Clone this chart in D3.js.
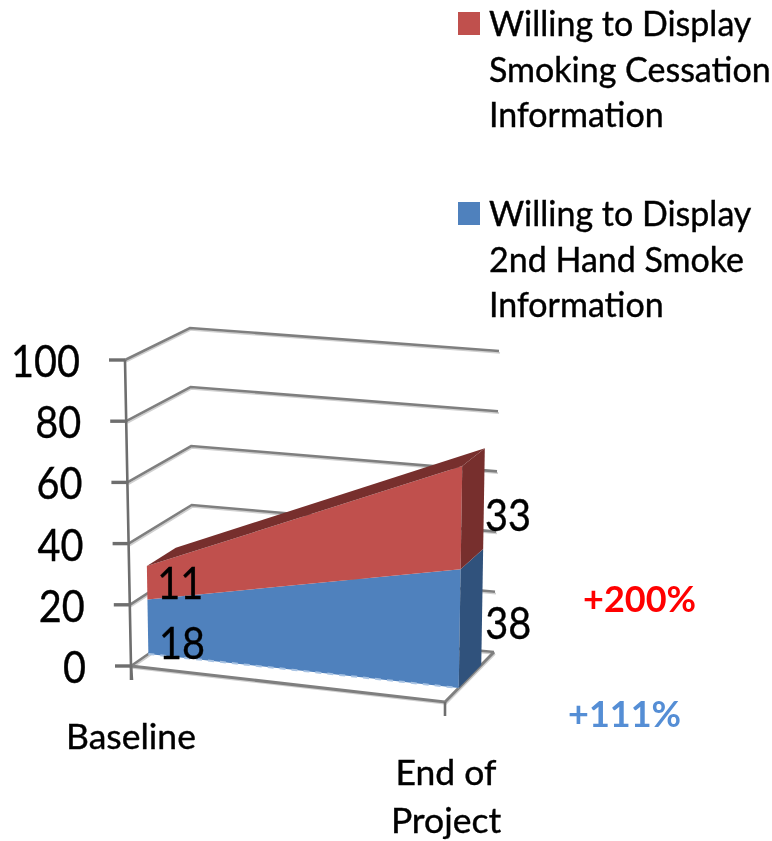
<!DOCTYPE html>
<html>
<head>
<meta charset="utf-8">
<title>Willingness to display information</title>
<script src="https://cdn.jsdelivr.net/npm/d3@7"></script>
<style>
	html, body { margin: 0; padding: 0; background: #fff; }
	svg { display: block; filter: blur(0.6px); }
	text { font-family: Lato, "Open Sans", sans-serif; fill: #000; stroke: #000; stroke-width: 0.4px; }
</style>
</head>
<body>
<svg id="chart" width="772" height="841"></svg>
<script>
const categories = ["Baseline", "End of Project"];
const secondHand = [18, 38];
const cessation = [11, 33];
const yTicks = [0, 20, 40, 60, 80, 100];
const legendLabels = [
	["Willing to Display", "Smoking Cessation", "Information"],
	["Willing to Display", "2nd Hand Smoke", "Information"]
];
const changeLabels = ["+200%", "+111%"];

const RED = "#c0504d", RED_DARK = "#772f2d";
const BLUE = "#4f81bd", BLUE_DARK = "#30527c";
const GRID = "#7f7f7f";

let svg = d3.select("#chart");

// the four upright edges of the 3d box, each one a value -> pixel scale
function edge(x0, y0, x100, y100) {
	return {
		x: d3.scaleLinear().domain([0, 100]).range([x0, x100]),
		y: d3.scaleLinear().domain([0, 100]).range([y0, y100])
	};
}
let frontLeft = edge(131, 666, 125, 360);
let frontRight = edge(445, 702, 450, 385);
let backLeft = edge(193, 623, 190, 328);
let backRight = edge(494, 652, 499, 351);

let across = d3.scalePoint().domain(categories).range([0, 1]);
let depth = d3.scaleLinear().domain([0, 1]).range([0, 1]);

// project category position u, value v and depth d to the page
function project(u, v, d) {
	let t = depth(d);
	let mix = function(a, b, k) { return a + (b - a) * k; };
	let fx = mix(frontLeft.x(v), frontRight.x(v), u), fy = mix(frontLeft.y(v), frontRight.y(v), u);
	let bx = mix(backLeft.x(v), backRight.x(v), u), by = mix(backLeft.y(v), backRight.y(v), u);
	return [mix(fx, bx, t), mix(fy, by, t)];
}

let line = d3.line();
const areaFront = 0.28, areaBack = 0.74;

function gridLine(points, width, color, dy) {
	svg.append("path")
		.attr("d", line(points))
		.attr("transform", dy ? "translate(1," + dy + ")" : null)
		.attr("fill", "none")
		.attr("stroke", color)
		.attr("stroke-width", width)
		.attr("stroke-linejoin", "miter");
}

// walls and floor
yTicks.forEach(function(v) {
	let pts = [project(0, v, 0), project(0, v, 1), project(1, v, 1)];
	gridLine(pts, 1.8, "#d0d0d0", 1.8);
	gridLine(pts, 2.6, GRID);
});
gridLine([project(0, 0, 0), project(1, 0, 0), project(1, 0, 1)], 1.8, "#d0d0d0", 1.8);
gridLine([project(0, 0, 0), project(1, 0, 0), project(1, 0, 1)], 3, GRID);

// stacked area
let stacks = [
	{ low: [0, 0], high: secondHand, front: BLUE, side: BLUE_DARK },
	{ low: secondHand, high: secondHand.map((v, i) => v + cessation[i]), front: RED, side: RED_DARK }
];
stacks.forEach(function(s) {
	let fl = project(0, s.low[0], areaFront), fr = project(1, s.low[1], areaFront);
	let tl = project(0, s.high[0], areaFront), tr = project(1, s.high[1], areaFront);
	let bl = project(1, s.low[1], areaBack), bh = project(1, s.high[1], areaBack);
	svg.append("path").attr("d", line([fl, fr, tr, tl]) + "Z").attr("fill", s.front);
	svg.append("path").attr("d", line([fr, bl, bh, tr]) + "Z").attr("fill", s.side);
});
// top of the red band
let stackTop = stacks[1].high;
svg.append("path")
	.attr("d", line([
		project(0, stackTop[0], areaFront), project(0, stackTop[0], areaBack),
		project(1, stackTop[1], areaBack), project(1, stackTop[1], areaFront)
	]) + "Z")
	.attr("fill", RED_DARK);
// pale dashes along the foot of the blue band
svg.append("path")
	.attr("d", line([project(0, 0, areaFront), project(1, 0, areaFront)]))
	.attr("stroke", "#a8c3e3")
	.attr("stroke-width", 2)
	.attr("stroke-dasharray", "6 6")
	.attr("fill", "none");

// value axis
gridLine([project(0, 100, 0), project(0, 0, 0), [project(0, 0, 0)[0] + 1, project(0, 0, 0)[1] + 14]], 2.6, "#6e6e6e");
yTicks.forEach(function(v) {
	let p = project(0, v, 0);
	gridLine([[p[0] - 16, p[1]], p], 3.4, "#6e6e6e");
	svg.append("text")
		.attr("x", p[0] - 45)
		.attr("y", p[1] + 17)
		.attr("text-anchor", "end")
		.attr("font-size", 45)
		.attr("textLength", String(v).length * 23)
		.attr("lengthAdjust", "spacingAndGlyphs")
		.text(v);
});
// category ticks and labels
categories.forEach(function(c, i) {
	let p = project(across(c), 0, 0);
	gridLine([p, [p[0], p[1] + 14]], 2.6, "#6e6e6e");
	let words = i === 0 ? [c] : ["End of", "Project"];
	words.forEach(function(w, j) {
		svg.append("text")
			.attr("x", p[0] + (i === 0 ? 0 : 1))
			.attr("y", p[1] + 83 + j * 48)
			.attr("text-anchor", "middle")
			.attr("font-size", 35.5)
			.text(w);
	});
});

// data labels
function dataLabel(value, u, mid, d, dx, dy) {
	let p = project(u, mid, d);
	svg.append("text")
		.attr("x", p[0] + dx)
		.attr("y", p[1] + dy)
		.attr("font-size", 44)
		.attr("textLength", String(value).length * 23)
		.attr("lengthAdjust", "spacingAndGlyphs")
		.text(value);
}
dataLabel(cessation[0], 0, secondHand[0] + cessation[0] / 2, areaFront, 10, 16);
dataLabel(secondHand[0], 0, secondHand[0] / 2, areaFront, 11, 32);
dataLabel(cessation[1], 1, secondHand[1] + cessation[1] / 2, areaBack, 1, 32);
dataLabel(secondHand[1], 1, secondHand[1] / 2, areaBack, 3, 32);

// legend
legendLabels.forEach(function(lines, i) {
	let g = svg.append("g").attr("transform", "translate(458," + (12 + i * 190) + ")");
	g.append("rect").attr("width", 22).attr("height", 23).attr("fill", i === 0 ? RED : BLUE);
	lines.forEach(function(l, j) {
		g.append("text")
			.attr("x", 31)
			.attr("y", 24 + j * 45.5)
			.attr("font-size", 34)
			.text(l);
	});
});

// change annotations
svg.append("text")
	.attr("x", 583).attr("y", 612)
	.attr("font-size", 36).attr("font-weight", 700)
	.style("fill", "#ff0000").style("stroke", "none")
	.text(changeLabels[0]);
svg.append("text")
	.attr("x", 568).attr("y", 727)
	.attr("font-size", 36).attr("font-weight", 700)
	.style("fill", "#558ed5").style("stroke", "none")
	.text(changeLabels[1]);
</script>
</body>
</html>
